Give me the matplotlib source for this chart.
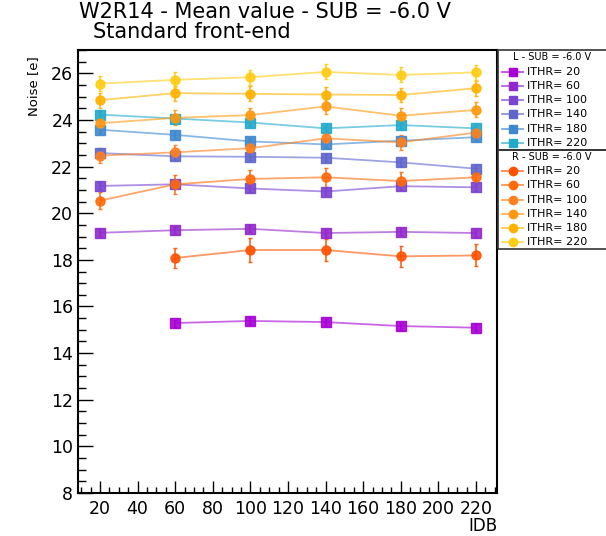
import numpy as np
import matplotlib
matplotlib.use("Agg")
import matplotlib.pyplot as plt
from matplotlib.lines import Line2D
from matplotlib.patches import Rectangle
from matplotlib.ticker import MultipleLocator

plt.rcParams['font.family'] = ['DejaVu Sans']

W, H = 606, 536

# IDB settings scanned
idb = [20, 60, 100, 140, 180, 220]
ithr = [20, 60, 100, 140, 180, 220]

# Left half (L) mean noise per ITHR, one list per threshold
L_ithr20 = [np.nan, 15.29, 15.38, 15.33, 15.16, 15.09]
L_ithr60 = [19.16, 19.27, 19.33, 19.15, 19.20, 19.15]
L_ithr100 = [21.17, 21.24, 21.06, 20.93, 21.16, 21.11]
L_ithr140 = [22.58, 22.44, 22.42, 22.38, 22.18, 21.91]
L_ithr180 = [23.58, 23.36, 23.08, 22.95, 23.11, 23.26]
L_ithr220 = [24.23, 24.06, 23.89, 23.64, 23.78, 23.64]
L_err = [0.15, 0.15, 0.15, 0.15, 0.15, 0.15]

# Right half (R) mean noise per ITHR
R_ithr20 = [np.nan, 18.08, 18.42, 18.42, 18.15, 18.19]
R_ithr60 = [20.54, 21.24, 21.47, 21.54, 21.38, 21.54]
R_ithr100 = [22.47, 22.61, 22.79, 23.21, 23.04, 23.46]
R_ithr140 = [23.86, 24.09, 24.21, 24.58, 24.18, 24.43]
R_ithr180 = [24.85, 25.15, 25.12, 25.09, 25.07, 25.36]
R_ithr220 = [25.56, 25.72, 25.83, 26.06, 25.93, 26.04]
R_err20 = [0.0, 0.44, 0.50, 0.48, 0.45, 0.47]
R_err60 = [0.35, 0.40, 0.40, 0.42, 0.38, 0.40]
R_err = [0.32, 0.32, 0.32, 0.32, 0.32, 0.32]

L_series = [L_ithr20, L_ithr60, L_ithr100, L_ithr140, L_ithr180, L_ithr220]
R_series = [R_ithr20, R_ithr60, R_ithr100, R_ithr140, R_ithr180, R_ithr220]
R_errs = [R_err20, R_err60, R_err, R_err, R_err, R_err]

L_colors = ['#A800D6', '#9228CC', '#7A44D2', '#5E66CE', '#3E88D0', '#22AACC']
R_colors = ['#FF5200', '#FF6A08', '#FF801E', '#FF980E', '#FFB200', '#FFCC14']


def fx(px):
    return px / W


def fy(py):
    return 1 - py / H


fig = plt.figure(figsize=(W / 100, H / 100), dpi=100)
ax = fig.add_axes([fx(78), fy(493), fx(497) - fx(78), fy(50) - fy(493)])

for vals, col in zip(L_series, L_colors):
    ax.plot(idb, vals, '-', color=col, lw=1.3, alpha=0.6, zorder=2)
    ax.errorbar(idb, vals, yerr=L_err, fmt='s', color=col, ms=6.5,
                elinewidth=1.2, capsize=1.5, alpha=0.9, zorder=3)

for vals, errs, col in zip(R_series, R_errs, R_colors):
    ax.plot(idb, vals, '-', color=col, lw=1.3, alpha=0.6, zorder=2)
    ax.errorbar(idb, vals, yerr=errs, fmt='o', color=col, ms=6.5,
                elinewidth=1.2, capsize=1.5, alpha=0.9, zorder=3)

ax.set_xlim(8.3, 231.2)
ax.set_ylim(8, 27)
ax.xaxis.set_major_locator(MultipleLocator(20))
ax.xaxis.set_minor_locator(MultipleLocator(5))
ax.yaxis.set_major_locator(MultipleLocator(2))
ax.yaxis.set_minor_locator(MultipleLocator(0.5))
ax.set_xticks(list(range(20, 221, 20)))
ax.tick_params(axis='both', which='both', direction='in', top=False, right=False,
               width=1.0, labelsize=12.5)
ax.tick_params(axis='x', which='major', length=9, pad=5)
ax.tick_params(axis='x', which='minor', length=4.5)
ax.tick_params(axis='y', which='major', length=11, pad=3.5)
ax.tick_params(axis='y', which='minor', length=5.5)
for sp in ax.spines.values():
    sp.set_linewidth(1.5)

fig.text(fx(79), fy(18.5), 'W2R14 - Mean value - SUB = -6.0 V', fontsize=15,
         ha='left', va='baseline')
fig.text(fx(93), fy(38), 'Standard front-end', fontsize=15, ha='left', va='baseline')
fig.text(fx(34), fy(56), 'Noise [e]', fontsize=9.5, rotation=90, ha='center', va='top')
fig.text(fx(497), fy(531), 'IDB', fontsize=12, ha='right', va='baseline')

# Two stacked legend boxes to the right of the frame
def legend_box(top, title, colors, marker):
    fig.patches.append(Rectangle((fx(498), fy(top + 99.5)), fx(606) - fx(498) + 0.01,
                                 fy(top) - fy(top + 99.5), transform=fig.transFigure,
                                 fill=False, ec='#333333', lw=1.2, clip_on=False))
    fig.text(fx(552), fy(top + 7), title, fontsize=7, ha='center', va='center')
    for i, (t, col) in enumerate(zip(ithr, colors)):
        yy = fy(top + 21.7 + 14.2 * i)
        fig.lines.append(Line2D([fx(502), fx(523)], [yy, yy], color=col, lw=1.3,
                                alpha=0.7, transform=fig.transFigure))
        fig.lines.append(Line2D([fx(512.5)], [yy], marker=marker, color=col, ms=6,
                                ls='none', transform=fig.transFigure))
        fig.text(fx(527), yy, f'ITHR= {t}', fontsize=8, ha='left', va='center')


legend_box(50, 'L - SUB = -6.0 V', L_colors, 's')
legend_box(149.5, 'R - SUB = -6.0 V', R_colors, 'o')

fig.savefig('out.png', dpi=100)
